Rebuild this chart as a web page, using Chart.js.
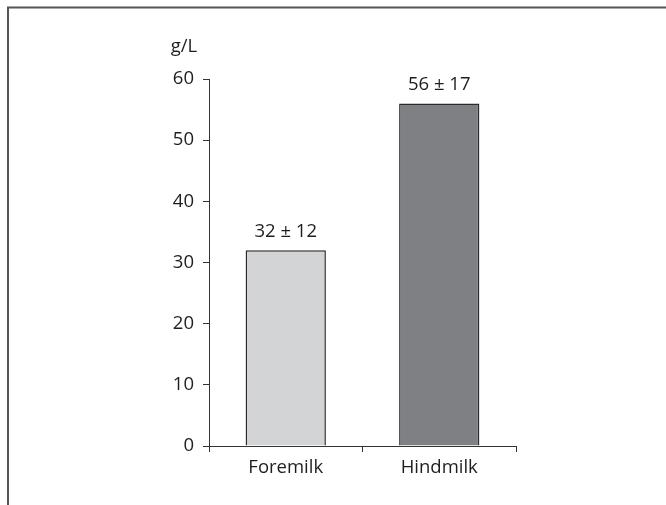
<!DOCTYPE html>
<html>
<head>
<meta charset="utf-8">
<script src="https://cdn.jsdelivr.net/npm/chart.js@4"></script>
<style>
html,body{margin:0;padding:0;background:#fff;}
#wrap{position:relative;width:666px;height:505px;}
</style>
</head>
<body>
<div id="wrap"><canvas id="c" width="666" height="505"></canvas></div>
<script>
const categories = ["Foremilk", "Hindmilk"];
const means = [32, 56];
const sds = [12, 17];
const barColors = ["#d3d4d6", "#7f8083"];
const unitLabel = "g/L";
const yMin = 0, yMax = 60, yStep = 10;

const FONT = "'Open Sans', 'Noto Sans', sans-serif";
const FS = 18.5;
const TEXT = "#1e1e1e";
const AXIS = "#333";

const framePlugin = {
  id: 'frame',
  beforeDraw(chart) {
    const ctx = chart.ctx;
    ctx.save();
    ctx.strokeStyle = "#555";
    ctx.lineWidth = 2;
    ctx.beginPath();
    ctx.moveTo(7, 7.5);
    ctx.lineTo(666, 7.5);
    ctx.stroke();
    ctx.beginPath();
    ctx.moveTo(8, 7);
    ctx.lineTo(8, 505);
    ctx.stroke();
    ctx.restore();
  }
};

const labelPlugin = {
  id: 'barLabels',
  afterDatasetsDraw(chart) {
    const ctx = chart.ctx;
    const meta = chart.getDatasetMeta(0);
    ctx.save();
    ctx.font = FS + "px " + FONT;
    ctx.fillStyle = TEXT;
    ctx.textAlign = "center";
    ctx.textBaseline = "middle";
    meta.data.forEach((bar, i) => {
      ctx.fillText(means[i] + " ± " + sds[i], bar.x, bar.y - 19);
    });
    const ys = chart.scales.y;
    ctx.fillText(unitLabel, ys.right - 25, ys.top - 32);
    ctx.restore();
  }
};

new Chart(document.getElementById('c'), {
  type: 'bar',
  data: {
    labels: categories,
    datasets: [{
      data: means,
      backgroundColor: barColors,
      borderColor: "#2a2a2a",
      borderWidth: 1.5,
      categoryPercentage: 1,
      barPercentage: 0.523
    }]
  },
  options: {
    responsive: false,
    animation: false,
    devicePixelRatio: 1,
    layout: { padding: { left: 0, right: 150, top: 79, bottom: 0 } },
    plugins: { legend: { display: false }, tooltip: { enabled: false } },
    scales: {
      x: {
        grid: { drawOnChartArea: false, tickLength: 6, color: AXIS, offset: true },
        border: { color: AXIS, width: 1 },
        ticks: { font: { size: FS, family: FONT }, color: TEXT, padding: 5 },
        afterFit(s) { s.height = 59; }
      },
      y: {
        min: yMin, max: yMax,
        grid: { drawOnChartArea: false, tickLength: 6, color: AXIS },
        border: { color: AXIS, width: 1 },
        ticks: { stepSize: yStep, font: { size: FS, family: FONT }, color: TEXT, padding: 9 },
        afterFit(s) { s.width = 209; }
      }
    }
  },
  plugins: [framePlugin, labelPlugin]
});
</script>
</body>
</html>
